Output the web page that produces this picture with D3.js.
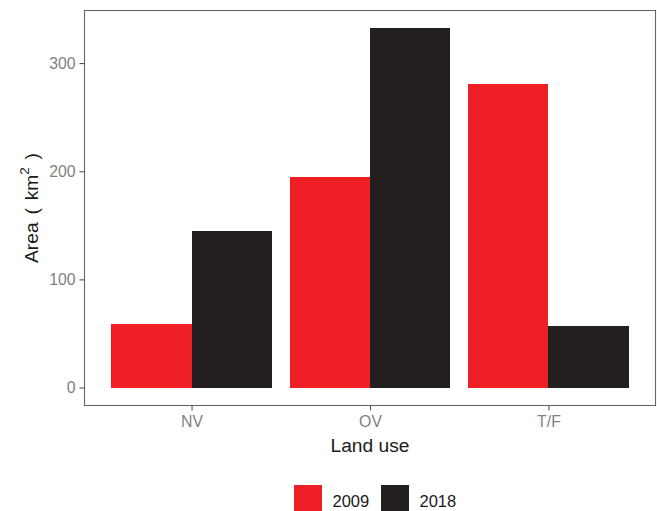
<!DOCTYPE html>
<html><head><meta charset="utf-8">
<script src="https://cdn.jsdelivr.net/npm/d3@7"></script>
<style>body{margin:0;background:#fff}svg{display:block;font-family:Arial,"Liberation Sans",sans-serif}</style>
</head><body><svg id="c" width="657" height="511"></svg>
<script>
const categories = ["NV", "OV", "T/F"];
const years = ["2009", "2018"];
const values2009 = [59, 195, 281];
const values2018 = [145, 332, 57];
const yTicks = [0, 100, 200, 300];
const colors = ["#EE1F25", "#231F20"];

const svg = d3.select("#c");
const L = 84.5, R = 655.5, T = 10.5, B = 405.5;
const data = categories.map((c, i) => ({cat: c, vals: [values2009[i], values2018[i]]}));
const maxV = d3.max([...values2009, ...values2018]);
const y = d3.scaleLinear().domain([-maxV * 0.05, maxV * 1.05]).range([B, T]);
const xc = d3.scaleLinear().domain([0.4, categories.length + 0.6]).range([L, R]);
const bw = 0.45;

const g = svg.append("g").attr("shape-rendering", "crispEdges");
data.forEach((d, i) => {
  d.vals.forEach((v, j) => {
    const x0 = xc(i + 1 - 0.45 + j * bw), x1 = xc(i + 1 - 0.45 + (j + 1) * bw);
    g.append("rect").attr("x", x0).attr("width", x1 - x0)
      .attr("y", y(v)).attr("height", y(0) - y(v)).attr("fill", colors[j]);
  });
});

svg.append("rect").attr("x", L).attr("y", T).attr("width", R - L).attr("height", B - T)
  .attr("fill", "none").attr("stroke", "#666").attr("stroke-width", 1.1);

const yAxis = svg.append("g").attr("transform", `translate(${L},0)`)
  .call(d3.axisLeft(y).tickValues(yTicks).tickSize(5).tickPadding(4));
const xs = d3.scaleOrdinal().domain(categories).range(categories.map((c, i) => xc(i + 1)));
const xAxis = svg.append("g").attr("transform", `translate(0,${B})`)
  .call(d3.axisBottom(xs).tickSize(5).tickPadding(5));
[yAxis, xAxis].forEach(a => {
  a.select(".domain").remove();
  a.selectAll(".tick line").attr("stroke", "#555").attr("stroke-width", 1.1);
  a.selectAll(".tick text").attr("fill", "#7f7f7f").attr("font-size", 15.8)
    .attr("font-family", "Arial, 'Liberation Sans', sans-serif");
});

svg.append("text").attr("x", (L + R) / 2).attr("y", 452).attr("text-anchor", "middle")
  .attr("font-size", 19.2).attr("fill", "#1a1a1a").text("Land use");

const yl = svg.append("text").attr("transform", `translate(37.5,${(T + B) / 2}) rotate(-90)`)
  .attr("text-anchor", "middle").attr("font-size", 19.2).attr("fill", "#1a1a1a")
  .attr("word-spacing", 2.5);
yl.append("tspan").text("Area ( km");
yl.append("tspan").attr("dy", -9).attr("font-size", 13.5).text("2");
yl.append("tspan").attr("dy", 9).text(" )");

const leg = svg.append("g");
const legX = [294, 381];
years.forEach((yr, j) => {
  leg.append("rect").attr("x", legX[j]).attr("y", 485).attr("width", 28).attr("height", 26).attr("fill", colors[j]);
  leg.append("text").attr("x", legX[j] + 38.5).attr("y", 506.5).attr("font-size", 16.5)
    .attr("fill", "#1a1a1a").text(yr);
});
</script></body></html>
